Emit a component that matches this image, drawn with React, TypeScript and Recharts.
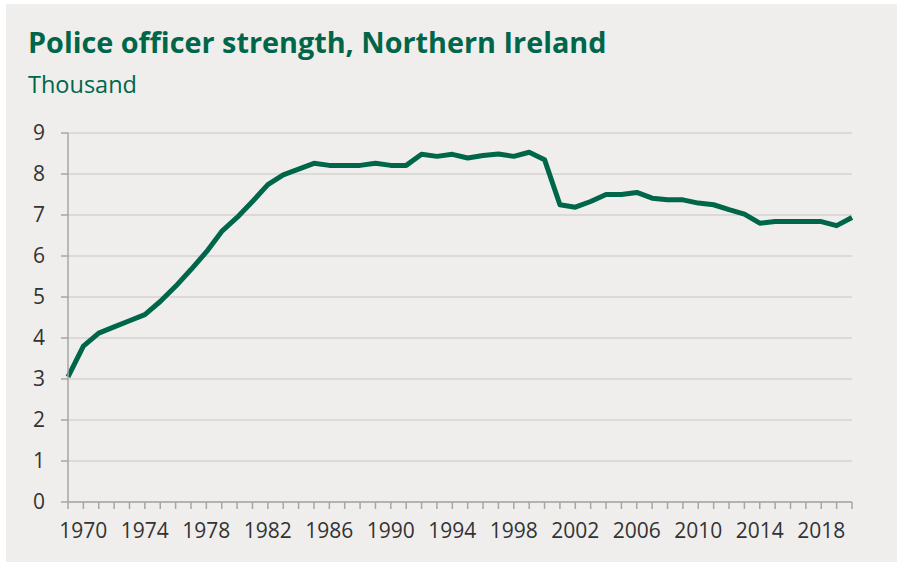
import { LineChart, Line, XAxis, YAxis, CartesianGrid } from "recharts"

// Police officer strength, thousand
const years = [
  1969, 1970, 1971, 1972, 1973, 1974, 1975, 1976, 1977, 1978, 1979, 1980, 1981,
  1982, 1983, 1984, 1985, 1986, 1987, 1988, 1989, 1990, 1991, 1992, 1993, 1994,
  1995, 1996, 1997, 1998, 1999, 2000, 2001, 2002, 2003, 2004, 2005, 2006, 2007,
  2008, 2009, 2010, 2011, 2012, 2013, 2014, 2015, 2016, 2017, 2018, 2019, 2020,
]

const officers = [
  3.05, 3.8, 4.12, 4.27, 4.42, 4.57, 4.89, 5.26, 5.67, 6.1, 6.6, 6.94, 7.33,
  7.74, 7.98, 8.12, 8.26, 8.21, 8.21, 8.21, 8.26, 8.21, 8.21, 8.48, 8.43, 8.48,
  8.39, 8.45, 8.49, 8.43, 8.53, 8.35, 7.25, 7.19, 7.33, 7.5, 7.5, 7.55, 7.41,
  7.37, 7.37, 7.29, 7.25, 7.13, 7.02, 6.8, 6.84, 6.84, 6.84, 6.84, 6.74, 6.94,
]

const yTicks = [0, 1, 2, 3, 4, 5, 6, 7, 8, 9]
const xLabelYears = [
  1970, 1974, 1978, 1982, 1986, 1990, 1994, 1998, 2002, 2006, 2010, 2014, 2018,
]

const green = "#00664a"
const axisColor = "#a6a6a6"
const textColor = "#333333"

export default function App() {
  const data = years.map((year, i) => ({ year, value: officers[i] }))

  return (
    <div
      style={{
        position: "absolute",
        left: 0,
        top: 0,
        width: 897,
        height: 562,
        background: "#ffffff",
        overflow: "hidden",
      }}
    >
      <div
        style={{
          position: "absolute",
          left: 6,
          top: 4,
          right: 0,
          bottom: 0,
          background: "#efeeec",
        }}
      />
      <div
        style={{
          position: "absolute",
          left: 28,
          top: 22,
          fontFamily: "'Open Sans', sans-serif",
          fontWeight: 700,
          fontSize: 28.8,
          color: green,
          whiteSpace: "nowrap",
        }}
      >
        Police officer strength, Northern Ireland
      </div>
      <div
        style={{
          position: "absolute",
          left: 28,
          top: 68,
          fontFamily: "'Open Sans', sans-serif",
          fontSize: 23.5,
          color: green,
          whiteSpace: "nowrap",
        }}
      >
        Thousand
      </div>
      <div style={{ position: "absolute", left: 0, top: 0 }}>
        <LineChart
          width={897}
          height={562}
          data={data}
          margin={{ top: 133, right: 45, left: 0, bottom: 0 }}
          style={{ fontFamily: "'Open Sans', sans-serif" }}
        >
          <CartesianGrid
            vertical={false}
            stroke="#dbdad8"
            strokeWidth={2}
          />
          <XAxis
            dataKey="year"
            type="number"
            domain={[1969, 2020]}
            ticks={years}
            interval={0}
            height={60}
            tickSize={7}
            tickMargin={14}
            stroke={axisColor}
            strokeWidth={1.5}
            tick={{ fill: textColor, fontSize: 21 }}
            tickFormatter={(y: number) => (xLabelYears.includes(y) ? String(y) : "")}
          />
          <YAxis
            type="number"
            domain={[0, 9]}
            ticks={yTicks}
            interval={0}
            width={68}
            tickSize={7}
            tickMargin={16}
            stroke={axisColor}
            strokeWidth={1.5}
            tick={{ fill: textColor, fontSize: 21 }}
          />
          <Line
            type="linear"
            dataKey="value"
            stroke={green}
            strokeWidth={5}
            strokeLinejoin="round"
            dot={false}
            isAnimationActive={false}
          />
        </LineChart>
      </div>
    </div>
  )
}
